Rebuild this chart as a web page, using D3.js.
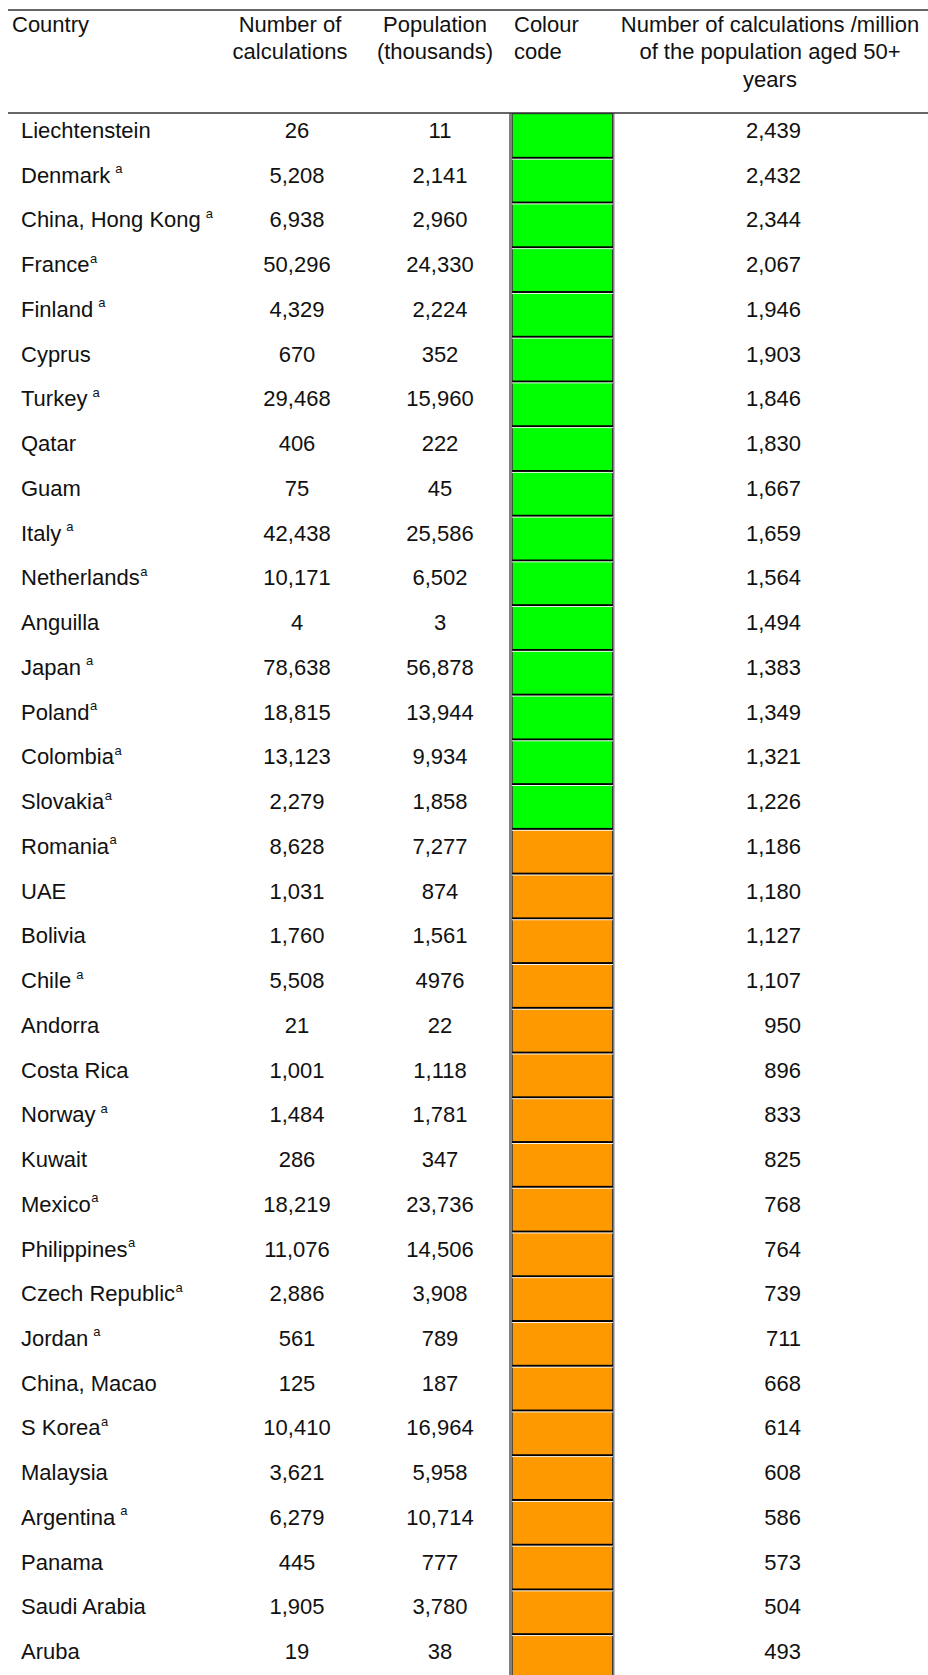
<!DOCTYPE html>
<html><head><meta charset="utf-8">
<script src="https://cdn.jsdelivr.net/npm/d3@7"></script>
<style>body{margin:0;background:#fff}svg{display:block}text{font-family:"Liberation Sans",Arial,Helvetica,sans-serif;fill:#111}</style>
</head><body><svg id="c" width="928" height="1675"></svg>
<script>
const countries = ["Liechtenstein","Denmark","China, Hong Kong","France","Finland","Cyprus","Turkey","Qatar","Guam","Italy","Netherlands","Anguilla","Japan","Poland","Colombia","Slovakia","Romania","UAE","Bolivia","Chile","Andorra","Costa Rica","Norway","Kuwait","Mexico","Philippines","Czech Republic","Jordan","China, Macao","S Korea","Malaysia","Argentina","Panama","Saudi Arabia","Aruba"];
// footnote: 0 none, 1 "a" after a space, 2 "a" directly attached
const footnotes = [0,1,1,2,1,0,1,0,0,1,2,0,1,2,2,2,2,0,0,1,0,0,1,0,2,2,2,1,0,2,0,1,0,0,0];
const calculations = [26,5208,6938,50296,4329,670,29468,406,75,42438,10171,4,78638,18815,13123,2279,8628,1031,1760,5508,21,1001,1484,286,18219,11076,2886,561,125,10410,3621,6279,445,1905,19];
const population = [11,2141,2960,24330,2224,352,15960,222,45,25586,6502,3,56878,13944,9934,1858,7277,874,1561,"4976",22,1118,1781,347,23736,14506,3908,789,187,16964,5958,10714,777,3780,38];
const colourCodes = ["green","green","green","green","green","green","green","green","green","green","green","green","green","green","green","green","orange","orange","orange","orange","orange","orange","orange","orange","orange","orange","orange","orange","orange","orange","orange","orange","orange","orange","orange"];
const ratePerMillion = [2439,2432,2344,2067,1946,1903,1846,1830,1667,1659,1564,1494,1383,1349,1321,1226,1186,1180,1127,1107,950,896,833,825,768,764,739,711,668,614,608,586,573,504,493];
const headers = [
  {lines:["Country"], x:12, anchor:"start"},
  {lines:["Number of","calculations"], x:290, anchor:"middle"},
  {lines:["Population","(thousands)"], x:435, anchor:"middle"},
  {lines:["Colour","code"], x:514, anchor:"start"},
  {lines:["Number of calculations /million","of the population aged 50+","years"], x:770, anchor:"middle"}
];
const palette = {green:"#00ff00", orange:"#ff9900"};

(function(){
const svg = d3.select("#c");
const fmt = d3.format(",");
const label = v => typeof v === "string" ? v : fmt(v);
const tableTop = 113, pitch = 44.74;
const y = d3.scaleBand().domain(countries).range([tableTop, tableTop + pitch*countries.length]).padding(0);
const FS = 22;

svg.append("line").attr("x1",8).attr("x2",928).attr("y1",10).attr("y2",10).attr("stroke","#333").attr("stroke-width",1.3);

headers.forEach(h=>{
  const t = svg.append("text").attr("x",h.x).attr("y",31.5).attr("text-anchor",h.anchor).attr("font-size",FS);
  h.lines.forEach((l,i)=>t.append("tspan").attr("x",h.x).attr("dy",i?27.5:0).text(l));
});

const cx0 = 509, cx1 = 614.5;
svg.append("rect").attr("x",cx0).attr("y",tableTop).attr("width",cx1-cx0).attr("height",1675-tableTop).attr("fill","#808080");
svg.append("rect").attr("x",cx0+3).attr("y",tableTop).attr("width",cx1-cx0-4.5).attr("height",1675-tableTop).attr("fill","#3a3a3a");
const cells = svg.append("g");
countries.forEach((c,i)=>{
  const y0 = y(c);
  cells.append("rect").attr("x",cx0+3.8).attr("y",y0+1.2).attr("width",cx1-cx0-6.3).attr("height",y.bandwidth()-1.6)
    .attr("fill",palette[colourCodes[i]]);
  if(i>0){
    cells.append("rect").attr("x",cx0+3).attr("y",y0-0.9).attr("width",cx1-cx0-4.5).attr("height",1.9).attr("fill","#000");
    cells.append("rect").attr("x",cx0+3).attr("y",y0+1.0).attr("width",cx1-cx0-4.5).attr("height",0.9).attr("fill","#fff");
  }
});

svg.append("line").attr("x1",8).attr("x2",928).attr("y1",tableTop).attr("y2",tableTop).attr("stroke","#333").attr("stroke-width",1.3);

const rows = svg.append("g").attr("font-size",FS);
countries.forEach((c,i)=>{
  const by = y(c) + 25;
  const t = rows.append("text").attr("x",21).attr("y",by);
  t.append("tspan").text(c);
  if(footnotes[i]){
    t.append("tspan").attr("dx",footnotes[i]===1?5:0.5).attr("dy",-9.5).attr("font-size",13).text("a");
  }
  rows.append("text").attr("x",297).attr("y",by).attr("text-anchor","middle").text(label(calculations[i]));
  rows.append("text").attr("x",440).attr("y",by).attr("text-anchor","middle").text(label(population[i]));
  rows.append("text").attr("x",801).attr("y",by).attr("text-anchor","end").text(label(ratePerMillion[i]));
});
})();
</script></body></html>
